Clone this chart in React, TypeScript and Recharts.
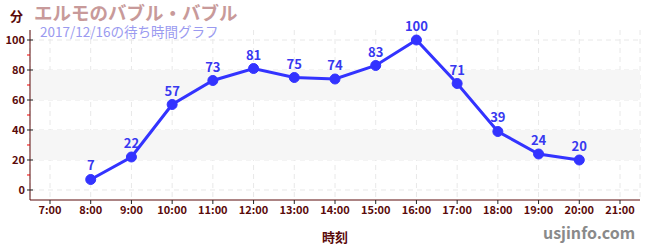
import React from 'react';
import { LineChart, Line, XAxis, YAxis, CartesianGrid, ReferenceArea, LabelList } from 'recharts';

const hours = ['7:00', '8:00', '9:00', '10:00', '11:00', '12:00', '13:00', '14:00', '15:00', '16:00', '17:00', '18:00', '19:00', '20:00', '21:00'];
const waits: (number | null)[] = [null, 7, 22, 57, 73, 81, 75, 74, 83, 100, 71, 39, 24, 20, null];
const yTicks = [0, 10, 20, 30, 40, 50, 60, 70, 80, 90, 100];
const majorTicks = [0, 20, 40, 60, 80, 100];
const bands: [number, number][] = [[20, 40], [60, 80]];

const data = hours.map((h, i) => ({ hour: h, wait: waits[i] }));

const FONT = '"Noto Sans CJK JP", "Noto Sans", sans-serif';
const AXIS = '#5a0a0a';
const PAD = 20;

const YTick = (props: any) => {
  const { y, payload } = props;
  const v = payload.value;
  const major = v % 20 === 0;
  const ax = 30;
  return (
    <g>
      <line x1={ax - 3} x2={ax + (major ? 3 : 0)} y1={y} y2={y} stroke={major ? '#222' : '#e00'} strokeWidth={1} />
      {major && (
        <text x={ax - 5} y={y} dy={4} textAnchor="end" fontSize={11} fontWeight="bold" fill={AXIS} fontFamily={FONT}>
          {v}
        </text>
      )}
    </g>
  );
};

const BandShape = (props: any) => {
  const { x, y, width, height } = props;
  return <rect x={x - PAD} y={y} width={width + 2 * PAD} height={height} fill="#f6f6f6" />;
};

export default function App() {
  return (
    <div style={{ position: 'absolute', left: 0, top: 0, width: 650, height: 250, background: '#fff', fontFamily: FONT }}>
      <LineChart width={650} height={250} data={data} margin={{ top: 30, right: 10, bottom: 0, left: 0 }}>
        {bands.map(([a, b]) => (
          <ReferenceArea key={a} y1={a} y2={b} shape={<BandShape />} ifOverflow="visible" />
        ))}
        <CartesianGrid strokeDasharray="5 4" stroke="#e8e8e8" horizontalValues={majorTicks} />
        <XAxis
          dataKey="hour"
          stroke={AXIS}
          padding={{ left: PAD, right: PAD }}
          tick={{ fill: AXIS, fontSize: 11, fontWeight: 'bold', fontFamily: FONT }}
          tickLine={{ stroke: '#222' }}
          tickSize={4}
          height={50}
          interval={0}
          label={{ value: '時刻', position: 'insideBottom', offset: 8, fill: AXIS, fontSize: 13, fontWeight: 'bold', fontFamily: FONT }}
        />
        <YAxis
          type="number"
          domain={[-6.67, 106.67]}
          ticks={yTicks}
          width={30}
          stroke={AXIS}
          tickLine={false}
          tick={<YTick />}
          interval={0}
          allowDataOverflow
        />
        <Line
          type="linear"
          dataKey="wait"
          stroke="#3333ff"
          strokeWidth={3}
          dot={{ r: 5, fill: '#3333ff', stroke: '#3333ff', strokeWidth: 1 }}
          isAnimationActive={false}
        >
          <LabelList dataKey="wait" position="top" offset={9} fill="#3838f0" fontSize={13} fontWeight="bold" fontFamily={FONT} />
        </Line>
      </LineChart>
      <div style={{ position: 'absolute', left: 10, top: 9, fontSize: 13, lineHeight: 1, fontWeight: 'bold', color: AXIS }}>分</div>
      <div style={{ position: 'absolute', left: 34, top: 3, fontSize: 18.5, lineHeight: 1, fontWeight: 'bold', color: '#c89a9a', whiteSpace: 'nowrap' }}>エルモのバブル・バブル</div>
      <div style={{ position: 'absolute', left: 40, top: 25, fontSize: 13.5, lineHeight: 1, color: '#9a9af0', whiteSpace: 'nowrap' }}>2017/12/16の待ち時間グラフ</div>
      <div style={{ position: 'absolute', left: 543, top: 224, fontSize: 16, lineHeight: 1, fontWeight: 'bold', color: '#8a8a8a', whiteSpace: 'nowrap' }}>usjinfo.com</div>
    </div>
  );
}
